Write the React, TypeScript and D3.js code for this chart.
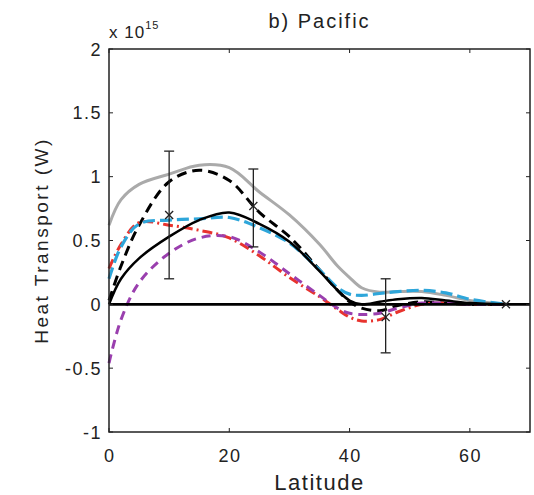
import React from 'react';
import * as d3 from 'd3';

// latitudes shared by the model curves
const lats = [0, 2, 5, 10, 15, 20, 25, 30, 35, 38, 40, 42, 45, 48, 52, 56, 60, 66];

const grayVals = [0.62, 0.82, 0.94, 1.02, 1.09, 1.07, 0.88, 0.70, 0.47, 0.30, 0.21, 0.13, 0.095, 0.10, 0.10, 0.07, 0.03, 0];
const blackDashVals = [0.03, 0.3, 0.62, 0.96, 1.05, 0.97, 0.72, 0.53, 0.27, 0.11, 0.02, -0.03, -0.05, -0.01, 0.02, 0.01, 0, 0];
const blackVals = [0, 0.2, 0.36, 0.53, 0.66, 0.72, 0.63, 0.49, 0.26, 0.11, 0.03, 0.0, 0.02, 0.04, 0.05, 0.03, 0.01, 0];
const blueVals = [0.2, 0.45, 0.63, 0.66, 0.67, 0.68, 0.6, 0.48, 0.27, 0.13, 0.08, 0.07, 0.085, 0.1, 0.11, 0.09, 0.04, 0];
const redVals = [0.28, 0.47, 0.64, 0.62, 0.58, 0.52, 0.38, 0.21, 0.06, -0.04, -0.1, -0.13, -0.12, -0.06, 0.0, 0.01, 0.0, 0];
const purpleVals = [-0.46, -0.12, 0.17, 0.4, 0.52, 0.53, 0.41, 0.24, 0.07, -0.03, -0.07, -0.08, -0.07, -0.03, 0.01, 0.01, 0, 0];

// observational estimates
const obsLat = [10, 24, 46, 66];
const obsVal = [0.7, 0.77, -0.1, 0];
const obsLow = [0.2, 0.45, -0.38, null];
const obsHigh = [1.2, 1.06, 0.2, null];

const xTicks = [0, 20, 40, 60];
const yTicks = [-1, -0.5, 0, 0.5, 1, 1.5, 2];

const App = () => {
  const left = 109, right = 530, top = 49, bottom = 432;
  const x = d3.scaleLinear().domain([0, 70]).range([left, right]);
  const y = d3.scaleLinear().domain([-1, 2]).range([bottom, top]);

  const line = d3.line<number>()
    .x((d, i) => x(lats[i]))
    .y(d => y(d))
    .curve(d3.curveCatmullRom.alpha(0.5));

  const series = [
    { vals: grayVals, color: '#aaaaaa', w: 3, dash: null },
    { vals: blackDashVals, color: '#000', w: 3, dash: '10,6' },
    { vals: redVals, color: '#e8332e', w: 3, dash: '10,4,2,4' },
    { vals: purpleVals, color: '#9a3fae', w: 3, dash: '9,6' },
    { vals: blueVals, color: '#2ea6da', w: 3.2, dash: '12,5' },
    { vals: blackVals, color: '#000', w: 2.5, dash: null },
  ];

  const font = 'Liberation Sans, Arial, sans-serif';
  const txt = '#222';

  return (
    <svg width={534} height={495} style={{ position: 'absolute', left: 0, top: 0, background: '#fff' }} fontFamily={font}>
      <rect width={534} height={495} fill="#fff" />

      {series.map((s, i) => (
        <path key={i} d={line(s.vals) || ''} fill="none" stroke={s.color} strokeWidth={s.w}
          strokeDasharray={s.dash || undefined} strokeLinejoin="round" />
      ))}

      <line x1={x(0)} x2={x(70)} y1={y(0)} y2={y(0)} stroke="#000" strokeWidth={2.8} />

      {obsLat.map((lat, i) => {
        const cx = x(lat), cy = y(obsVal[i]);
        const lo = obsLow[i], hi = obsHigh[i];
        return (
          <g key={i} stroke="#222" strokeWidth={1.3}>
            {lo !== null && hi !== null && (
              <g>
                <line x1={cx} x2={cx} y1={y(lo)} y2={y(hi)} />
                <line x1={cx - 5} x2={cx + 5} y1={y(lo)} y2={y(lo)} />
                <line x1={cx - 5} x2={cx + 5} y1={y(hi)} y2={y(hi)} />
              </g>
            )}
            <line x1={cx - 4} x2={cx + 4} y1={cy - 4} y2={cy + 4} />
            <line x1={cx - 4} x2={cx + 4} y1={cy + 4} y2={cy - 4} />
          </g>
        );
      })}

      <rect x={left} y={top} width={right - left} height={bottom - top} fill="none" stroke="#222" strokeWidth={1.5} />

      {xTicks.map(t => (
        <g key={'x' + t}>
          <line x1={x(t)} x2={x(t)} y1={bottom} y2={bottom - 4} stroke="#222" />
          <line x1={x(t)} x2={x(t)} y1={top} y2={top + 4} stroke="#222" />
          <text x={x(t) + 0.75} y={bottom + 30} textAnchor="middle" fontSize={18} letterSpacing={1.5} fill={txt}>{t}</text>
        </g>
      ))}
      {yTicks.map(t => (
        <g key={'y' + t}>
          <line x1={left} x2={left + 4} y1={y(t)} y2={y(t)} stroke="#222" />
          <line x1={right} x2={right - 4} y1={y(t)} y2={y(t)} stroke="#222" />
          <text x={left - 7} y={y(t) + 6.5} textAnchor="end" fontSize={18} letterSpacing={1.5} fill={txt}>{t}</text>
        </g>
      ))}

      <text x={109} y={38} fontSize={17} letterSpacing={1} fill={txt}>x 10<tspan dy={-9} fontSize={11}>15</tspan></text>
      <text x={(left + right) / 2} y={28} textAnchor="middle" fontSize={20} letterSpacing={2} fill={txt}>b) Pacific</text>
      <text x={(left + right) / 2} y={490} textAnchor="middle" fontSize={22} letterSpacing={1.5} fill={txt}>Latitude</text>
      <text transform={`translate(48, ${(top + bottom) / 2}) rotate(-90)`} textAnchor="middle" fontSize={19} letterSpacing={2.5} fill={txt}>Heat Transport (W)</text>
    </svg>
  );
};

export default App;
